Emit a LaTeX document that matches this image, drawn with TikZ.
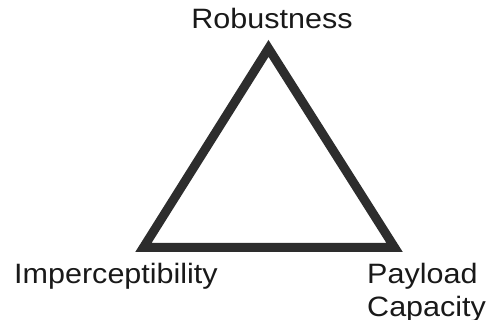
\documentclass[tikz,border=0pt]{standalone}
\usepackage{fontspec}
\setmainfont{Liberation Sans}
\usepackage{tikz}
\usetikzlibrary{positioning}
\definecolor{trEdge}{RGB}{ 45, 45, 45}
\definecolor{trText}{RGB}{ 25, 25, 25}

\begin{document}
\begin{tikzpicture}[
  x=1pt,y=-1pt,
  corner/.style={font=\fontsize{28}{33}\selectfont,text=trText,inner sep=0pt,
               xscale=1.09,transform shape,align=left},
  edge/.style={draw=trEdge,line width=9pt,miter limit=10},
]
\useasboundingbox (0,0) rectangle (491,320);
\coordinate (top)   at (268.5,48.4);
\coordinate (left)  at (143.4,247.5);
\coordinate (right) at (394.6,247.5);
\draw[edge] (top) -- (left) -- (right) -- cycle;
\node[corner,anchor=base] (rob) at (272,29) {Robustness};
\node[corner,anchor=base] (imp) at (116,284) {Imperceptibility};
\node[corner,anchor=base west] (pay) at (367,317) {Payload\\Capacity};
\end{tikzpicture}
\end{document}
